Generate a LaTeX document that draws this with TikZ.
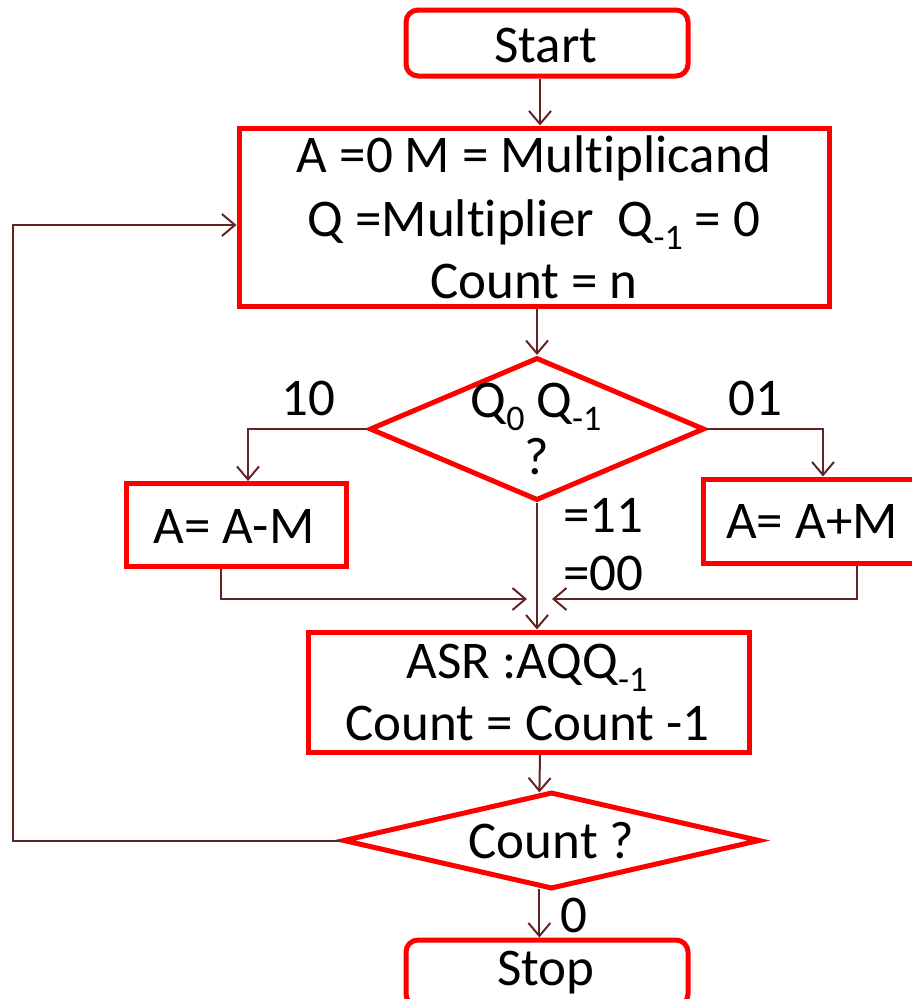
\documentclass[tikz,border=0pt]{standalone}
\usepackage{fontspec}
\setmainfont{Carlito}[Ligatures=NoCommon]
\usetikzlibrary{arrows.meta,shapes.geometric,calc}
\definecolor{conn}{RGB}{99,37,35}
\definecolor{boxred}{RGB}{255,0,0}
% subscript set in the body font, smaller and lowered
\newcommand\sbs[1]{\raisebox{-0.25em}{\fontsize{36}{36}\selectfont #1}}

\begin{document}
\begin{tikzpicture}[x=1pt,y=-1pt,
  flow/.style={draw=conn, line width=2pt},
  arr/.style={flow, -{Straight Barb[length=13pt,width=22pt]}},
  box/.style={draw=boxred, line width=5pt, inner sep=0pt, rectangle},
  rbox/.style={box, rounded corners=12pt},
  dia/.style={draw=boxred, line width=5pt, diamond, inner sep=0pt},
  txt/.style={anchor=base, inner sep=0pt, font=\fontsize{53}{64}\selectfont},
  lbl/.style={anchor=base west, inner sep=0pt, font=\fontsize{53}{64}\selectfont},
]
\path[use as bounding box] (0,0) rectangle (912,999);
\clip (0,0) rectangle (912,999);

% ---- boxes and decisions ----
\node[rbox, minimum width=282pt, minimum height=66pt] (start) at (547,43) {};
\node[box, minimum width=590pt, minimum height=178pt] (init) at (534,217) {};
\node[dia, minimum width=335pt, minimum height=143pt] (d1) at (537,429) {};
\node[box, minimum width=220pt, minimum height=83pt] (sub) at (236,525) {};
\node[box, minimum width=260pt, minimum height=84pt] (add) at (833,521) {};
\node[box, minimum width=441pt, minimum height=120pt] (asr) at (528.5,692) {};
\node[dia, minimum width=417pt, minimum height=97pt] (d2) at (551.5,840.5) {};
\node[rbox, minimum width=282pt, minimum height=66pt] (stop) at (547,973) {};

% ---- texts ----
\node[txt] (tstart) at (546,62) {Start};
\node[txt] (tinit1) at (534,172) {A =0 M = Multiplicand};
\node[txt] (tinit2) at (534,236) {Q =Multiplier\ \ Q\sbs{-1} = 0};
\node[txt] (tinit3) at (534,298) {Count = n};
\node[txt] (td1a) at (536,417) {Q\sbs{0} Q\sbs{-1}};
\node[txt] (td1b) at (537,474) {?};
\node[txt] (tsub) at (234,543) {A= A-M};
\node[txt] (tadd) at (812,538) {A= A+M};
\node[txt] (tasr1) at (527,678) {ASR :AQQ\sbs{-1}};
\node[txt] (tasr2) at (527.5,740) {Count = Count -1};
\node[txt] (td2) at (551.5,858) {Count ?};
\node[txt] (tstop) at (546,985) {Stop};

\node[txt] (l10) at (308,415) {10};
\node[txt] (l01) at (755,415) {01};
\node[lbl] (l11) at (563,532) {=11};
\node[lbl] (l00) at (563,590) {=00};
\node[lbl] (l0) at (560,932) {0};

% ---- helper coordinates ----
\coordinate (colA) at (540,0);
\coordinate (lbr) at (248,0);
\coordinate (rbr) at (823,0);
\coordinate (lx) at (221,0);
\coordinate (rx) at (857,0);
\coordinate (mL) at (527,599);
\coordinate (mR) at (552,599);
\coordinate (lp) at (13,0);
\coordinate (loopy) at (0,225);
\coordinate (d2in) at ($(d2.north)!0.0574!(d2.west)$);
\coordinate (d2out) at ($(d2.south)!0.0574!(d2.west)$);

% ---- connectors ----
\draw[arr] (start.south -| colA) -- (init.north -| colA);
\draw[arr] (init.south -| d1.north) -- (d1.north);
\draw[arr] (d1.west) -| (sub.north -| lbr);
\draw[arr] (d1.east) -| (add.north -| rbr);
\draw[arr] (d1.south) -- (asr.north -| d1.south);
\draw[arr] (sub.south -| lx) |- (mL);
\draw[arr] (add.south -| rx) |- (mR);
\draw[arr] (asr.south -| colA) -- (d2in);
\draw[arr] (d2out) -- (stop.north -| d2out);
\draw[arr] (d2.west) -| (lp |- loopy) -- (init.west |- loopy);
\end{tikzpicture}
\end{document}
